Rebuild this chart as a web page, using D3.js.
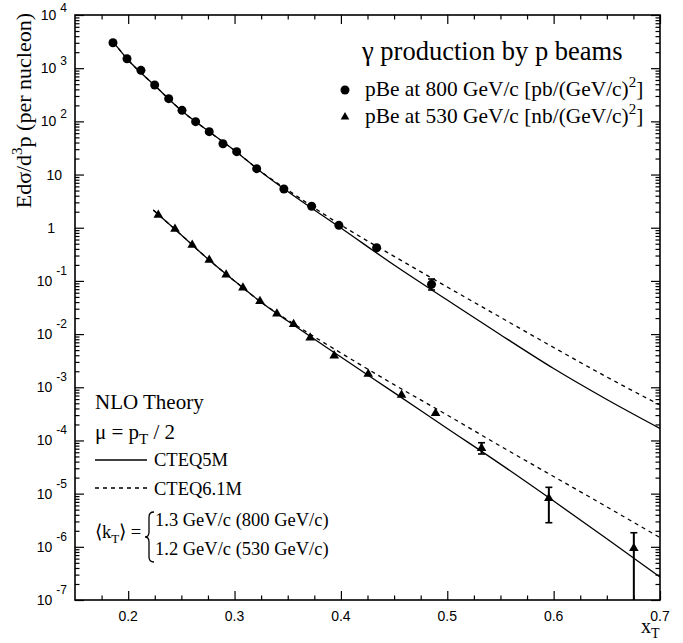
<!DOCTYPE html>
<html><head><meta charset="utf-8">
<script src="https://cdn.jsdelivr.net/npm/d3@7"></script>
<style>body{margin:0;background:#fff}</style>
</head><body><svg id="c" width="683" height="643"></svg>
<script>
// ---- data: 800 GeV/c pBe (pb/(GeV/c)^2) ----
const xT800 = [0.1857,0.1989,0.2120,0.2249,0.2381,0.2506,0.2634,0.2762,0.2891,0.3020,0.3208,0.3464,0.3725,0.3981,0.4336,0.4852];
const val800 = [3013,1507,912,483,267,161,98.6,64,38,26.9,12.9,5.35,2.53,1.11,0.421,0.0863];
const lo800  = [2700,1420,870,462,256,155,95,61.5,36.5,25.8,12.3,5.05,2.36,1.03,0.385,0.0675];
const hi800  = [3350,1600,955,505,278,167,102,66.5,39.5,28.0,13.5,5.65,2.70,1.19,0.457,0.1086];
// ---- data: 530 GeV/c pBe (nb/(GeV/c)^2) ----
const xT530 = [0.2283,0.2440,0.2602,0.2762,0.2921,0.3079,0.3239,0.3398,0.3555,0.3711,0.3937,0.4257,0.4570,0.4890,0.5322,0.5955,0.6754];
const val530 = [1.73,0.946,0.473,0.247,0.130,0.0745,0.0413,0.0242,0.0153,0.00855,0.00393,0.00178,7.16e-4,3.24e-4,7.11e-5,8.17e-6,9.38e-7];
const lo530  = [1.60,0.89,0.445,0.233,0.123,0.0705,0.0392,0.0229,0.0144,0.0080,0.00365,0.00163,6.5e-4,2.9e-4,5.56e-5,2.84e-6,1e-9];
const hi530  = [1.86,1.00,0.50,0.261,0.137,0.0785,0.0434,0.0255,0.0162,0.0091,0.00421,0.00193,7.8e-4,3.6e-4,9.06e-5,1.315e-5,1.84e-6];
// ---- NLO theory curves ----
const xC800 = [0.186,0.2,0.225,0.25,0.275,0.3,0.325,0.35,0.4,0.45,0.5,0.55,0.6,0.65,0.7];
const cteq5_800 = [3105,1425,472,160,66.4,28.3,11.2,4.80,0.988,0.199,0.0437,0.00973,0.00225,5.89e-4,1.68e-4];
const cteq61_800 = [3105,1425,472,160,66.4,28.4,11.3,5.12,1.125,0.290,0.0768,0.0207,0.00560,0.00156,4.64e-4];
const xC530 = [0.2236,0.25,0.275,0.3,0.325,0.35,0.4,0.45,0.5,0.55,0.6,0.65,0.7];
const cteq5_530 = [2.15,0.729,0.258,0.0995,0.0397,0.0176,0.00371,7.94e-4,1.68e-4,3.59e-5,7.26e-6,1.42e-6,2.70e-7];
const cteq61_530 = [2.15,0.729,0.258,0.0995,0.0398,0.0184,0.00441,0.00112,3.0e-4,7.82e-5,2.10e-5,5.65e-6,1.49e-6];
// ---- ticks ----
const xMajor = [0.2,0.3,0.4,0.5,0.6,0.7];
const xLabels = ["0.2","0.3","0.4","0.5","0.6","0.7"];
const xMinor = [0.175,0.225,0.25,0.275,0.325,0.35,0.375,0.425,0.45,0.475,0.525,0.55,0.575,0.625,0.65,0.675];
const yExps = [-7,-6,-5,-4,-3,-2,-1,0,1,2,3,4];
const yBase = ["10","10","10","10","10","10","10","1","10","10","10","10"];
const ySup  = ["-7","-6","-5","-4","-3","-2","-1","","","2","3","4"];

const svg = d3.select("#c");
const L=75, R=660, T=15, B=600;
const x = d3.scaleLinear().domain([0.15,0.7]).range([L,R]);
const y = d3.scaleLog().domain([1e-7,1e4]).range([B,T]);

const serif = "'Liberation Serif','Times New Roman',serif";
const sans = "'Liberation Sans',Arial,Helvetica,sans-serif";

const yMinor = [];
for (let e=-7;e<4;e++) for (let m=2;m<=9;m++) yMinor.push(m*Math.pow(10,e));

function axisG(){ return svg.append("g"); }
const fmtNone = () => "";
axisG().attr("transform",`translate(0,${B})`).call(d3.axisBottom(x).tickValues(xMajor).tickSize(-9).tickFormat(fmtNone));
axisG().attr("transform",`translate(0,${B})`).call(d3.axisBottom(x).tickValues(xMinor).tickSize(-4.5).tickFormat(fmtNone));
axisG().attr("transform",`translate(0,${T})`).call(d3.axisTop(x).tickValues(xMajor).tickSize(-9).tickFormat(fmtNone));
axisG().attr("transform",`translate(0,${T})`).call(d3.axisTop(x).tickValues(xMinor).tickSize(-4.5).tickFormat(fmtNone));
axisG().attr("transform",`translate(${L},0)`).call(d3.axisLeft(y).tickValues(yExps.map(e=>Math.pow(10,e))).tickSize(-9).tickFormat(fmtNone));
axisG().attr("transform",`translate(${L},0)`).call(d3.axisLeft(y).tickValues(yMinor).tickSize(-4.5).tickFormat(fmtNone));
axisG().attr("transform",`translate(${R},0)`).call(d3.axisRight(y).tickValues(yExps.map(e=>Math.pow(10,e))).tickSize(-9).tickFormat(fmtNone));
axisG().attr("transform",`translate(${R},0)`).call(d3.axisRight(y).tickValues(yMinor).tickSize(-4.5).tickFormat(fmtNone));
svg.selectAll(".domain").remove();
svg.selectAll(".tick line").attr("stroke","#000").attr("stroke-width",1.2);
svg.append("rect").attr("x",L).attr("y",T).attr("width",R-L).attr("height",B-T)
  .attr("fill","none").attr("stroke","#000").attr("stroke-width",1.6);

xMajor.forEach((v,i)=>{
  svg.append("text").attr("x",x(v)).attr("y",B+21).attr("text-anchor","middle")
    .attr("font-family",sans).attr("font-size",14).text(xLabels[i]);
});
yExps.forEach((e,i)=>{
  const yy = y(Math.pow(10,e));
  if (ySup[i]==="") {
    svg.append("text").attr("x", yBase[i]==="1"?55:62).attr("y",yy+5).attr("text-anchor","end")
      .attr("font-family",sans).attr("font-size",14).text(yBase[i]);
  } else {
    const t = svg.append("text").attr("x",67).attr("y",yy+5).attr("text-anchor","end")
      .attr("font-family",sans).attr("font-size",14);
    t.append("tspan").text(yBase[i]);
    t.append("tspan").attr("dx",4).attr("dy",e<0?-11:-8).attr("font-size",12).text(ySup[i]);
  }
});
const yt = svg.append("text").attr("transform",`translate(31,${T-2}) rotate(-90)`).attr("text-anchor","end")
  .attr("font-family",serif).attr("font-size",22);
yt.append("tspan").text("Edσ/d");
yt.append("tspan").attr("dy",-9).attr("font-size",15).text("3");
yt.append("tspan").attr("dy",9).text("p (per nucleon)");
const xt = svg.append("text").attr("x",641).attr("y",633).attr("font-family",serif).attr("font-size",20);
xt.append("tspan").text("x");
xt.append("tspan").attr("dy",5).attr("font-size",14).text("T");

svg.append("clipPath").attr("id","pc").append("rect").attr("x",L).attr("y",T).attr("width",R-L).attr("height",B-T);
const plot = svg.append("g").attr("clip-path","url(#pc)");

const line = d3.line().x(d=>x(d[0])).y(d=>y(d[1])).curve(d3.curveMonotoneX);
function curve(xs, ys, dashed){
  plot.append("path").datum(xs.map((v,i)=>[v,ys[i]])).attr("d",line)
    .attr("fill","none").attr("stroke","#000").attr("stroke-width",1.3)
    .attr("stroke-dasharray",dashed?"4,4":null);
}
curve(xC800,cteq5_800,false);
curve(xC800,cteq61_800,true);
curve(xC530,cteq5_530,false);
curve(xC530,cteq61_530,true);

function errs(xs, lo, hi){
  xs.forEach((v,i)=>{
    const X=x(v), y1=y(hi[i]), y2=y(lo[i]);
    plot.append("line").attr("x1",X).attr("x2",X).attr("y1",y1).attr("y2",y2).attr("stroke","#000").attr("stroke-width",2);
    if (y2-y1>10) {
      [y1,y2].forEach(yy=>plot.append("line").attr("x1",X-3.5).attr("x2",X+3.5).attr("y1",yy).attr("y2",yy).attr("stroke","#000").attr("stroke-width",1.6));
    }
  });
}
errs(xT800,lo800,hi800);
errs(xT530,lo530,hi530);
xT800.forEach((v,i)=>plot.append("circle").attr("cx",x(v)).attr("cy",y(val800[i])).attr("r",4.5).attr("fill","#000"));
const tri = d3.symbol().type(d3.symbolTriangle).size(40);
xT530.forEach((v,i)=>plot.append("path").attr("d",tri).attr("transform",`translate(${x(v)},${y(val530[i])})`).attr("fill","#000"));

svg.append("text").attr("x",362).attr("y",60).attr("font-family",serif).attr("font-size",26.5).text("γ production by p beams");
svg.append("circle").attr("cx",345).attr("cy",90).attr("r",4.5).attr("fill","#000");
svg.append("path").attr("d",d3.symbol().type(d3.symbolTriangle).size(32)).attr("transform","translate(345,117)").attr("fill","#000");
function entry(yb, txt){
  const t = svg.append("text").attr("x",365).attr("y",yb).attr("font-family",serif).attr("font-size",21.4);
  t.append("tspan").text(txt);
  t.append("tspan").attr("dy",-9).attr("font-size",15).text("2");
  t.append("tspan").attr("dy",9).text("]");
}
entry(96,"pBe at 800 GeV/c [pb/(GeV/c)");
entry(123,"pBe at 530 GeV/c [nb/(GeV/c)");

svg.append("text").attr("x",95).attr("y",409).attr("font-family",serif).attr("font-size",21).text("NLO Theory");
const mu = svg.append("text").attr("x",95).attr("y",439).attr("font-family",serif).attr("font-size",21);
mu.append("tspan").text("μ = p");
mu.append("tspan").attr("dy",5).attr("font-size",15).text("T");
mu.append("tspan").attr("dy",-5).text(" / 2");
svg.append("line").attr("x1",95).attr("x2",147).attr("y1",460).attr("y2",460).attr("stroke","#000").attr("stroke-width",1.3);
svg.append("text").attr("x",154).attr("y",466).attr("font-family",serif).attr("font-size",18.5).text("CTEQ5M");
svg.append("line").attr("x1",95).attr("x2",147).attr("y1",488).attr("y2",488).attr("stroke","#000").attr("stroke-width",1.3).attr("stroke-dasharray","4,4");
svg.append("text").attr("x",154).attr("y",495).attr("font-family",serif).attr("font-size",18.5).text("CTEQ6.1M");
const kt = svg.append("text").attr("x",95).attr("y",538).attr("font-family",serif).attr("font-size",18.5);
kt.append("tspan").text("⟨k");
kt.append("tspan").attr("dy",5).attr("font-size",13).text("T");
kt.append("tspan").attr("dy",-5).text("⟩ =");
svg.append("path").attr("d","M154,512 Q149,512 149,517 L149,532 Q149,537 145,537 Q149,537 149,542 L149,557 Q149,562 154,562")
  .attr("fill","none").attr("stroke","#000").attr("stroke-width",1.3);
svg.append("text").attr("x",155).attr("y",526).attr("font-family",serif).attr("font-size",18.5).text("1.3 GeV/c (800 GeV/c)");
svg.append("text").attr("x",155).attr("y",555).attr("font-family",serif).attr("font-size",18.5).text("1.2 GeV/c (530 GeV/c)");
</script></body></html>
